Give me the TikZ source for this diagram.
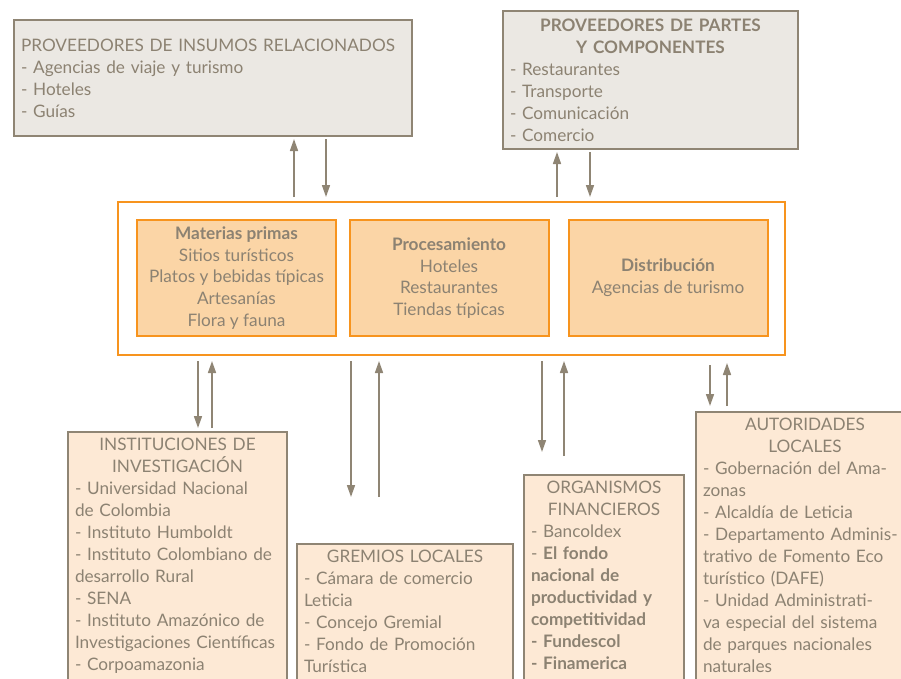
\documentclass[tikz,border=0pt]{standalone}
\usepackage{fontspec}
\setmainfont{Lato}
\usetikzlibrary{arrows.meta}

\definecolor{boxline}{HTML}{8F8574}
\definecolor{grayfill}{HTML}{EBE8E3}
\definecolor{peach}{HTML}{FDE9D5}
\definecolor{stagefill}{HTML}{FBD5A6}
\definecolor{orng}{HTML}{F7941E}
\definecolor{txt}{HTML}{8C8272}

\hyphenpenalty=10000
\exhyphenpenalty=10000
\newcommand\cutoff{\rule[-40pt]{0pt}{40pt}}
\newcommand\heading[1]{\makebox[\linewidth]{#1}\\}

\tikzset{
  basebox/.style={draw=boxline, line width=2pt, text=txt, font=\fontsize{17.2}{22}\selectfont,
    inner xsep=7pt, inner ysep=6pt, anchor=north west, align=left},
  graybox/.style={basebox, fill=grayfill},
  peachbox/.style={basebox, fill=peach},
  stagebox/.style={draw=orng, fill=stagefill, line width=2pt, text=txt, font=\fontsize{17.2}{21.7}\selectfont,
    align=center, minimum width=199, minimum height=116, inner sep=2pt},
  arr/.style={draw=boxline, line width=1.6pt, -{Triangle[width=8pt,length=12pt]}}
}

\begin{document}
\begin{tikzpicture}[x=1pt,y=-1pt]
            \useasboundingbox (0,0) rectangle (901,678);
            \clip (0,0) rectangle (901,678);

            \node[graybox, text width=384, minimum height=116] (insumos) at (13,19)
              {PROVEEDORES DE INSUMOS RELACIONADOS\\- Agencias de viaje y turismo\\- Hoteles\\- Guías};
            \node[graybox, text width=281, minimum height=138] (partes) at (502,10)
              {\heading{\textbf{PROVEEDORES DE PARTES}}\heading{\textbf{Y COMPONENTES}}%
               - Restaurantes\\- Transporte\\- Comunicación\\- Comercio};

            \node[draw=orng, line width=2pt, minimum width=667, minimum height=153] (chain) at (451.5,278.5) {};
            \node[stagebox] (materias) at (236.5,278)
              {\textbf{Materias primas}\\Sitios turísticos\\Platos y bebidas típicas\\Artesanías\\Flora y fauna};
            \node[stagebox] (proceso) at (449,278)
              {\textbf{Procesamiento}\\Hoteles\\Restaurantes\\Tiendas típicas};
            \node[stagebox] (distrib) at (668,278)
              {\textbf{Distribución}\\Agencias de turismo};

            \node[peachbox, text width=205] (inst) at (67,431)
              {\heading{INSTITUCIONES DE}\heading{INVESTIGACIÓN}%
               - Universidad Nacional\\de Colombia\\- Instituto Humboldt\\- Instituto Colombiano de\\desarrollo Rural\\- SENA\\- Instituto Amazónico de\\Investigaciones Científicas\\- Corpoamazonia\cutoff};
            \node[peachbox, text width=202] (gremios) at (296,543)
              {\heading{GREMIOS LOCALES}%
               - Cámara de comercio\\Leticia\\- Concejo Gremial\\- Fondo de Promoción\\Turística\cutoff};
            \node[peachbox, text width=146] (organismos) at (523,474)
              {\heading{ORGANISMOS}\heading{FINANCIEROS}%
               - Bancoldex\\- \textbf{El fondo}\\\textbf{nacional de}\\\textbf{productividad y}\\\textbf{competitividad}\\\textbf{- Fundescol}\\\textbf{- Finamerica}\cutoff};
            \node[peachbox, text width=204] (autoridades) at (695,411)
              {\heading{AUTORIDADES}\heading{LOCALES}%
               - Gobernación del Ama-\\zonas\\- Alcaldía de Leticia\\- Departamento Adminis-\\trativo de Fomento Eco\\turístico (DAFE)\\- Unidad Administrati-\\va especial del sistema\\de parques nacionales\\naturales\cutoff};

            \coordinate (gre1) at (351,497);
            \coordinate (gre2) at (379,497);
            \coordinate (org1) at (542,452);
            \coordinate (org2) at (564,456);
            \coordinate (aut1) at (710,406);
            \coordinate (aut2) at (727,406);

            \draw[arr, shorten <=4pt, shorten >=2pt] (chain.north -| 294,0) -- (insumos.south -| 294,0);
            \draw[arr, shorten <=2pt, shorten >=4pt] (insumos.south -| 326,0) -- (chain.north -| 326,0);
            \draw[arr, shorten <=4pt, shorten >=2pt] (chain.north -| 557,0) -- (partes.south -| 557,0);
            \draw[arr, shorten <=2pt, shorten >=4pt] (partes.south -| 590,0) -- (chain.north -| 590,0);

            \draw[arr, shorten <=5pt, shorten >=3pt] (chain.south -| 198,0) -- (inst.north -| 198,0);
            \draw[arr, shorten <=3pt, shorten >=5pt] (inst.north -| 212,0) -- (chain.south -| 212,0);
            \draw[arr, shorten <=5pt] (chain.south -| gre1) -- (gre1);
            \draw[arr, shorten >=5pt] (gre2) -- (chain.south -| gre2);
            \draw[arr, shorten <=5pt] (chain.south -| org1) -- (org1);
            \draw[arr, shorten >=5pt] (org2) -- (chain.south -| org2);
            \draw[arr, shorten <=9pt] (chain.south -| aut1) -- (aut1);
            \draw[arr, shorten >=7pt] (aut2) -- (chain.south -| aut2);
        \end{tikzpicture}
\end{document}
